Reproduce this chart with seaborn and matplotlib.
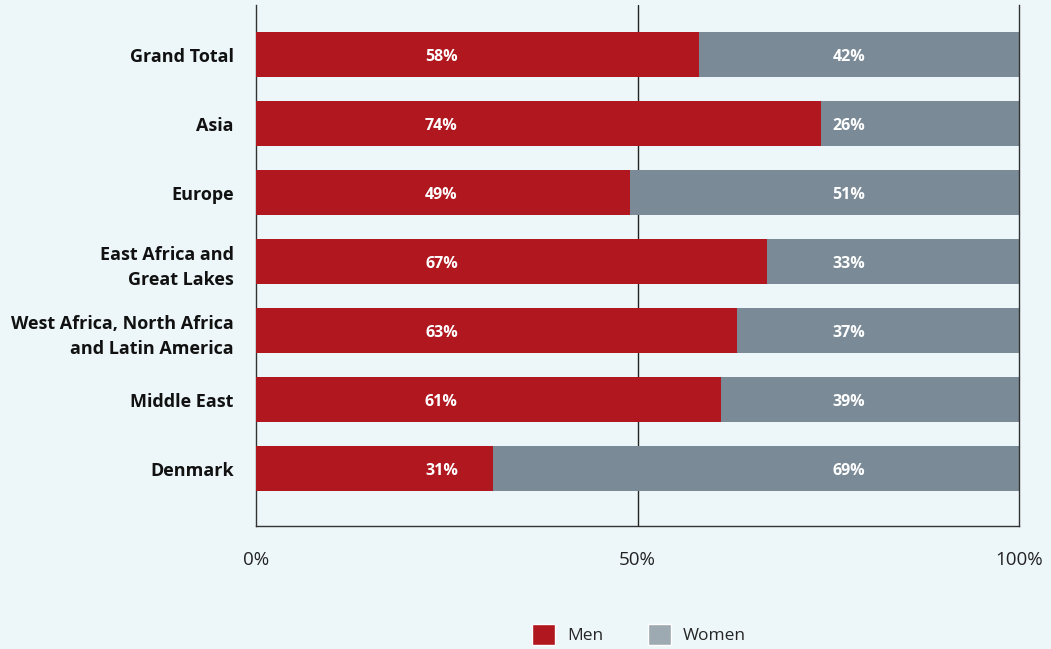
import pandas as pd
import seaborn as sns
import matplotlib.pyplot as plt
from matplotlib.patches import Patch

# Data
regions = ['Grand Total', 'Asia', 'Europe', 'East Africa and\nGreat Lakes',
           'West Africa, North Africa\nand Latin America', 'Middle East', 'Denmark']
men = [58, 74, 49, 67, 63, 61, 31]
women = [42, 26, 51, 33, 37, 39, 69]
xticks = [0, 50, 100]
xtick_labels = ['0%', '50%', '100%']

df = pd.DataFrame({'region': regions, 'men': men, 'women': women})
df['total'] = df['men'] + df['women']

bg = '#EDF7FA'
red = '#B0171F'
grey = '#7A8B97'

sns.set_theme(style='white')
plt.rcParams['font.family'] = ['Open Sans', 'DejaVu Sans']

fig = plt.figure(figsize=(10.51, 6.49), dpi=100, facecolor=bg)
ax = fig.add_axes([256 / 1051, 1 - 526 / 649, 763 / 1051, 521 / 649])
ax.set_facecolor(bg)

# Stacked bars: full bar in grey, men on top in red
sns.barplot(data=df, y='region', x='total', color=grey, orient='h', width=0.65,
            saturation=1, linewidth=0, ax=ax, zorder=2)
sns.barplot(data=df, y='region', x='men', color=red, orient='h', width=0.65,
            saturation=1, linewidth=0, ax=ax, zorder=3)

for i, (m, w) in enumerate(zip(men, women)):
    ax.text(24.3, i + 0.03, f'{m}%', color='white', ha='center', va='center',
            fontsize=11.5, fontweight='bold', zorder=4)
    ax.text(77.7, i + 0.03, f'{w}%', color='white', ha='center', va='center',
            fontsize=11.5, fontweight='bold', zorder=4)

ax.set_xlim(0, 100)
ax.set_ylim(6.83, -0.72)
ax.set_xticks(xticks)
ax.set_xticklabels(xtick_labels, fontsize=13.5, color='#222222')
ax.tick_params(axis='x', length=0, pad=18)
ax.tick_params(axis='y', length=0, pad=16)
for lab in ax.get_yticklabels():
    lab.set_fontweight('bold')
    lab.set_fontsize(13)
    lab.set_color('#111111')
    lab.set_linespacing(1.55)
ax.set_xlabel('')
ax.set_ylabel('')

ax.axvline(50, color='#222222', lw=1, zorder=1)
for side in ['left', 'bottom', 'right']:
    ax.spines[side].set_visible(True)
    ax.spines[side].set_color('#333333')
    ax.spines[side].set_linewidth(1)
ax.spines['top'].set_visible(False)

handles = [Patch(facecolor=red, label='Men'), Patch(facecolor='#9EAAB2', label='Women')]
fig.legend(handles=handles, loc='lower center', ncol=2, frameon=False,
           bbox_to_anchor=(0.608, -0.018), fontsize=12.5, handlelength=1.3,
           handleheight=1.5, columnspacing=2.6, handletextpad=0.7)

fig.savefig('out.png', dpi=100, facecolor=bg)
